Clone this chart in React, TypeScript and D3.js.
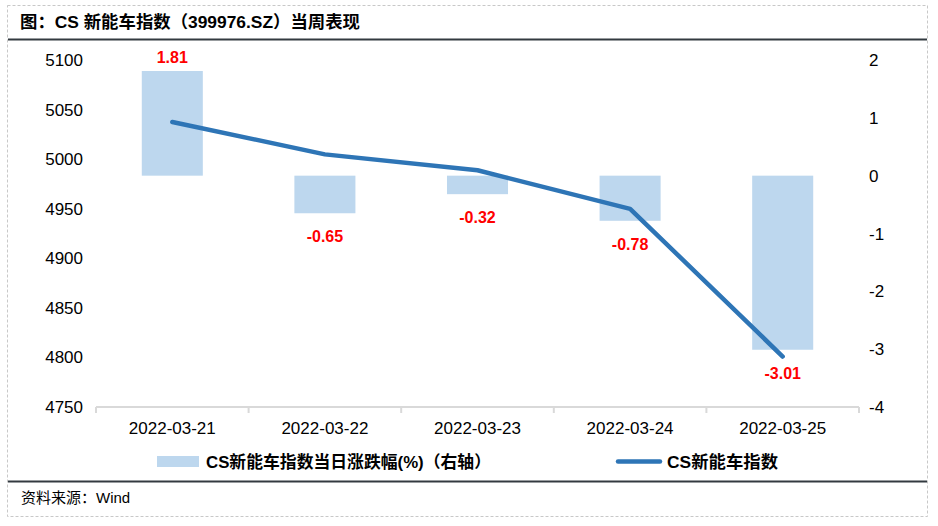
import React from "react";
import * as d3 from "d3";

const categories = ["2022-03-21", "2022-03-22", "2022-03-23", "2022-03-24", "2022-03-25"];
const pctChange = [1.81, -0.65, -0.32, -0.78, -3.01];
const indexValues = [5037.5, 5004.8, 4988.8, 4949.9, 4800.9];
const leftTicks = [4750, 4800, 4850, 4900, 4950, 5000, 5050, 5100];
const rightTicks = [-4, -3, -2, -1, 0, 1, 2];
const titleText = "图：CS 新能车指数（399976.SZ）当周表现";
const sourceText = "资料来源：Wind";
const barLegend = "CS新能车指数当日涨跌幅(%)（右轴）";
const lineLegend = "CS新能车指数";

const W = 938;
const H = 526;
const FONT = "'Liberation Sans', Arial, 'Noto Sans CJK SC', sans-serif";

export default function App() {
  const plotL = 96, plotR = 859, plotT = 60, plotB = 407;
  const x = d3.scaleBand<string>().domain(categories).range([plotL, plotR]).paddingInner(0).paddingOuter(0);
  const yL = d3.scaleLinear().domain([4750, 5100]).range([plotB, plotT]);
  const yR = d3.scaleLinear().domain([-4, 2]).range([plotB, plotT]);
  const bw = x.bandwidth() * 0.4;
  const line = d3
    .line<number>()
    .x((_, i) => (x(categories[i]) as number) + x.bandwidth() / 2)
    .y((d) => yL(d))
    .curve(d3.curveLinear);
  const boundaries = [...categories.map((c) => x(c) as number), plotR];

  return (
    <svg width={W} height={H} style={{ position: "absolute", left: 0, top: 0, background: "#fff" }} fontFamily={FONT}>
      <rect x={7.5} y={5.5} width={920} height={511} fill="#fff" stroke="#c8c8c8" strokeDasharray="3,2" />
      <text x={20} y={28} fontSize={17} fontWeight="bold" fill="#000" textLength={340} lengthAdjust="spacingAndGlyphs">{titleText}</text>
      <line x1={8} x2={927} y1={39.5} y2={39.5} stroke="#333a40" strokeWidth={2} />
      <line x1={8} x2={927} y1={481.5} y2={481.5} stroke="#333a40" strokeWidth={2} />
      <text x={21} y={503} fontSize={15} fill="#000">{sourceText}</text>

      {/* bars */}
      {pctChange.map((v, i) => {
        const cx = (x(categories[i]) as number) + x.bandwidth() / 2;
        const y0 = yR(0);
        const y1 = yR(v);
        return (
          <rect key={"b" + i} x={cx - bw / 2} y={Math.min(y0, y1)} width={bw} height={Math.abs(y1 - y0)} fill="#bdd7ee" />
        );
      })}

      {/* x axis */}
      <line x1={plotL} x2={plotR} y1={plotB} y2={plotB} stroke="#d9d9d9" strokeWidth={2} />
      {boundaries.map((b, i) => (
        <line key={"t" + i} x1={b} x2={b} y1={plotB} y2={plotB + 6} stroke="#d9d9d9" strokeWidth={2} />
      ))}
      {categories.map((c) => (
        <text key={c} x={(x(c) as number) + x.bandwidth() / 2} y={434} fontSize={17} textAnchor="middle" fill="#000">{c}</text>
      ))}

      {/* left axis labels */}
      {leftTicks.map((t) => (
        <text key={"l" + t} x={83} y={yL(t) + 6} fontSize={17} textAnchor="end" fill="#000">{t}</text>
      ))}
      {/* right axis labels */}
      {rightTicks.map((t) => (
        <text key={"r" + t} x={869} y={yR(t) + 6} fontSize={17} textAnchor="start" fill="#000">{t}</text>
      ))}

      {/* line */}
      <path d={line(indexValues) || ""} fill="none" stroke="#2e75b6" strokeWidth={4.5} strokeLinecap="round" strokeLinejoin="round" />

      {/* data labels */}
      {pctChange.map((v, i) => {
        const cx = (x(categories[i]) as number) + x.bandwidth() / 2;
        const ly = v >= 0 ? yR(v) - 7.5 : yR(v) + 29;
        return (
          <text key={"dl" + i} x={cx} y={ly} fontSize={16} fontWeight="bold" fill="#ff0000" textAnchor="middle">{v.toFixed(2)}</text>
        );
      })}

      {/* legend */}
      <rect x={157} y={456} width={42} height={11} fill="#bdd7ee" />
      <text x={206} y={468} fontSize={16.5} fontWeight="bold" fill="#000" textLength={285} lengthAdjust="spacingAndGlyphs">{barLegend}</text>
      <line x1={618} x2={660} y1={461.5} y2={461.5} stroke="#2e75b6" strokeWidth={4.5} strokeLinecap="round" />
      <text x={667} y={468} fontSize={16.5} fontWeight="bold" fill="#000" textLength={111} lengthAdjust="spacingAndGlyphs">{lineLegend}</text>
    </svg>
  );
}
